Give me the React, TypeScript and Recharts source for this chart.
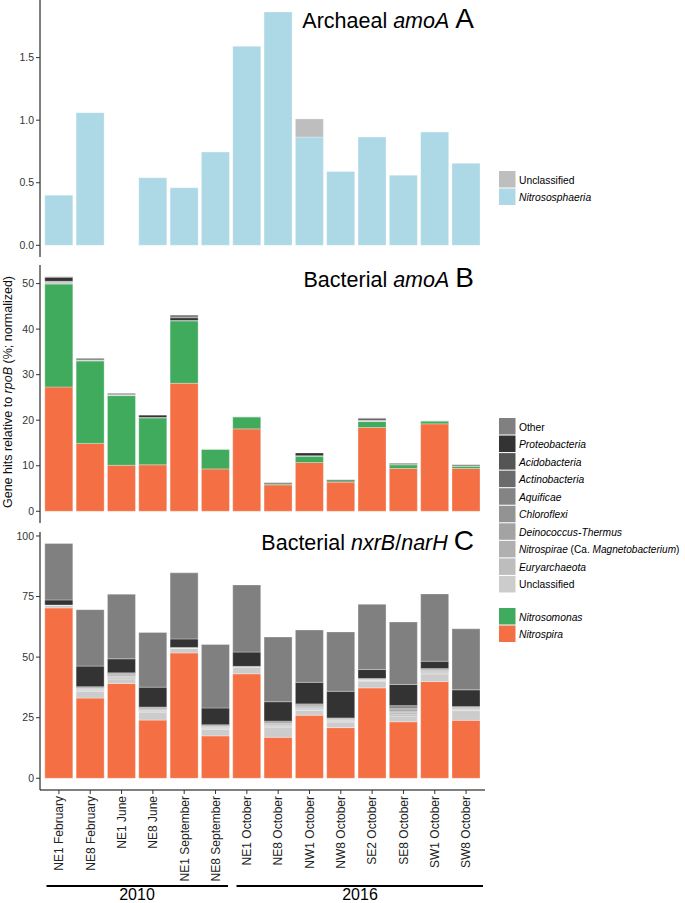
import { BarChart, Bar, XAxis, YAxis } from 'recharts';

const samples = [
  'NE1 February', 'NE8 February', 'NE1 June', 'NE8 June', 'NE1 September', 'NE8 September',
  'NE1 October', 'NE8 October', 'NW1 October', 'NW8 October', 'SE2 October', 'SE8 October',
  'SW1 October', 'SW8 October',
];

// A: archaeal amoA
const archNitrososphaeria = [0.4, 1.06, 0, 0.54, 0.46, 0.745, 1.59, 1.865, 0.865, 0.59, 0.865, 0.56, 0.905, 0.655];
const archUnclassified = [0, 0, 0, 0, 0, 0, 0, 0, 0.145, 0, 0, 0, 0, 0];

// B: bacterial amoA
const amoNitrospira = [27.3, 14.9, 10.1, 10.2, 28.1, 9.3, 18.1, 5.8, 10.7, 6.4, 18.4, 9.4, 19.2, 9.4];
const amoNitrosomonas = [22.6, 18.1, 15.3, 10.3, 13.7, 4.3, 2.6, 0.2, 1.4, 0.3, 1.3, 0.8, 0.6, 0.5];
const amoUnclassified = [0.6, 0.2, 0.2, 0.1, 0.1, 0.1, 0.1, 0, 0.1, 0, 0.3, 0.1, 0.1, 0.1];
const amoProteobacteria = [0.9, 0, 0, 0.5, 0.6, 0, 0, 0.2, 0.6, 0.2, 0.3, 0.2, 0, 0.2];
const amoOther = [0.1, 0.4, 0.3, 0, 0.6, 0, 0, 0.1, 0, 0, 0.2, 0, 0, 0];

// C: bacterial nxrB/narH
const nxrNitrospira = [70.3, 33.1, 39.1, 24.0, 51.7, 17.5, 43.1, 16.9, 26.0, 20.9, 37.3, 23.3, 39.9, 23.9];
const nxrUnclassified = [1.0, 2.8, 1.9, 3.3, 1.9, 2.7, 2.8, 4.0, 2.0, 2.3, 2.8, 2.4, 3.2, 4.0];
const nxrEuryarchaeota = [0.1, 0.4, 0.5, 0.4, 0.1, 0.4, 0.1, 0.5, 0.5, 0.3, 0.2, 0.8, 0.4, 0.3];
const nxrNitrospirae = [0.1, 0.3, 0.4, 0.3, 0.1, 0.3, 0.1, 0.4, 0.4, 0.3, 0.2, 0.6, 0.4, 0.3];
const nxrDeinococcus = [0, 0.2, 0.3, 0.3, 0, 0.2, 0, 0.4, 0.4, 0.2, 0.1, 0.6, 0.3, 0.2];
const nxrChloroflexi = [0, 0.3, 0.4, 0.3, 0.1, 0.3, 0, 0.4, 0.4, 0.3, 0.2, 0.6, 0.3, 0.3];
const nxrAquificae = [0, 0.2, 0.3, 0.3, 0, 0.2, 0, 0.3, 0.3, 0.2, 0.1, 0.6, 0.3, 0.2];
const nxrActinobacteria = [0, 0.3, 0.3, 0.3, 0.1, 0.3, 0.1, 0.4, 0.4, 0.2, 0.2, 0.6, 0.3, 0.2];
const nxrAcidobacteria = [0, 0.2, 0.3, 0.2, 0, 0.2, 0, 0.3, 0.3, 0.2, 0.1, 0.5, 0.2, 0.2];
const nxrProteobacteria = [2.1, 8.5, 5.8, 8.2, 3.5, 6.9, 5.9, 8.0, 8.9, 11.0, 3.7, 8.7, 3.0, 6.9];
const nxrOther = [23.3, 23.3, 26.7, 22.6, 27.3, 26.2, 27.7, 26.7, 21.6, 24.5, 26.9, 25.8, 27.8, 25.2];

const ticksA = [0, 0.5, 1, 1.5];
const ticksB = [0, 10, 20, 30, 40, 50];
const ticksC = [0, 25, 50, 75, 100];

const C = {
  nitrospira: '#F46F44',
  nitrosomonas: '#41AB5D',
  nitrososphaeria: '#ADD8E6',
  archUnclass: '#BEBEBE',
  unclassified: '#CCCCCC',
  eury: '#BDBDBD',
  nitrospirae: '#B0B0B0',
  deino: '#A3A3A3',
  chloro: '#939393',
  aquif: '#848484',
  actino: '#6B6B6B',
  acido: '#555555',
  proteo: '#333333',
  other: '#808080',
};

const dataA = samples.map((s, i) => ({ sample: s, nitrososphaeria: archNitrososphaeria[i], unclassified: archUnclassified[i] }));
const dataB = samples.map((s, i) => ({
  sample: s,
  nitrospira: amoNitrospira[i],
  nitrosomonas: amoNitrosomonas[i],
  unclassified: amoUnclassified[i],
  proteo: amoProteobacteria[i],
  other: amoOther[i],
}));
const dataC = samples.map((s, i) => ({
  sample: s,
  nitrospira: nxrNitrospira[i],
  unclassified: nxrUnclassified[i],
  eury: nxrEuryarchaeota[i],
  nitrospirae: nxrNitrospirae[i],
  deino: nxrDeinococcus[i],
  chloro: nxrChloroflexi[i],
  aquif: nxrAquificae[i],
  actino: nxrActinobacteria[i],
  acido: nxrAcidobacteria[i],
  proteo: nxrProteobacteria[i],
  other: nxrOther[i],
}));

const FONT = '"Liberation Sans", Arial, Helvetica, sans-serif';
const W = 485;
const PAD = { left: 3.25, right: 3.25 };
const tickStyle = { fontSize: 10.5, fill: '#333', fontFamily: FONT };

function XTick(props: any) {
  const { x, y, payload } = props;
  return (
    <g transform={`translate(${x},${y})`}>
      <text transform="rotate(-90)" x={0} y={0} dy="0.36em" textAnchor="end" fontSize={12} fill="#222" fontFamily={FONT}>
        {payload.value}
      </text>
    </g>
  );
}

function yAxis(domain: number[], ticks: number[], fmt?: (v: number) => string) {
  return (
    <YAxis
      type="number"
      domain={domain}
      allowDataOverflow
      ticks={ticks}
      interval={0}
      width={40}
      tickSize={4}
      tickMargin={2}
      axisLine={{ stroke: '#000', strokeWidth: 1 }}
      tickLine={{ stroke: '#333' }}
      tick={tickStyle}
      tickFormatter={fmt}
    />
  );
}

function seg(key: string, color: string) {
  return <Bar key={key} dataKey={key} stackId="s" fill={color} stroke="#ffffff" strokeWidth={0.3} isAnimationActive={false} />;
}

const legendBC = [
  { label: 'Other', color: C.other, italic: false },
  { label: 'Proteobacteria', color: C.proteo, italic: true },
  { label: 'Acidobacteria', color: C.acido, italic: true },
  { label: 'Actinobacteria', color: C.actino, italic: true },
  { label: 'Aquificae', color: C.aquif, italic: true },
  { label: 'Chloroflexi', color: C.chloro, italic: true },
  { label: 'Deinococcus-Thermus', color: C.deino, italic: true },
  { label: 'NITROSPIRAE', color: C.nitrospirae, italic: true },
  { label: 'Euryarchaeota', color: C.eury, italic: true },
  { label: 'Unclassified', color: C.unclassified, italic: false },
];

export default function App() {
  return (
    <div style={{ position: 'absolute', left: 0, top: 0, width: 685, height: 903, background: '#fff', fontFamily: FONT }}>
      <div style={{ position: 'absolute', left: 0, top: 0 }}>
        <BarChart width={W} height={257} data={dataA} margin={{ top: 0, right: 0, bottom: 0, left: 0 }} barCategoryGap="5%">
          <XAxis dataKey="sample" hide padding={PAD} />
          {yAxis([-0.0934, 1.9605], ticksA, (v) => v.toFixed(1))}
          {seg('nitrososphaeria', C.nitrososphaeria)}
          {seg('unclassified', C.archUnclass)}
        </BarChart>
      </div>
      <div style={{ position: 'absolute', left: 0, top: 255 }}>
        <BarChart width={W} height={268} data={dataB} margin={{ top: 10, right: 0, bottom: 0, left: 0 }} barCategoryGap="5%">
          <XAxis dataKey="sample" hide padding={PAD} />
          {yAxis([-2.575, 54.08], ticksB)}
          {seg('nitrospira', C.nitrospira)}
          {seg('nitrosomonas', C.nitrosomonas)}
          {seg('unclassified', C.unclassified)}
          {seg('proteo', C.proteo)}
          {seg('other', C.other)}
        </BarChart>
      </div>
      <div style={{ position: 'absolute', left: 0, top: 522 }}>
        <BarChart width={W} height={378} data={dataC} margin={{ top: 10, right: 0, bottom: 0, left: 0 }} barCategoryGap="5%">
          <XAxis
            dataKey="sample"
            padding={PAD}
            height={110}
            interval={0}
            tickSize={4}
            tickMargin={2}
            axisLine={{ stroke: '#000', strokeWidth: 1 }}
            tickLine={{ stroke: '#333' }}
            tick={<XTick />}
          />
          {yAxis([-4.84, 101.64], ticksC)}
          {seg('nitrospira', C.nitrospira)}
          {seg('unclassified', C.unclassified)}
          {seg('eury', C.eury)}
          {seg('nitrospirae', C.nitrospirae)}
          {seg('deino', C.deino)}
          {seg('chloro', C.chloro)}
          {seg('aquif', C.aquif)}
          {seg('actino', C.actino)}
          {seg('acido', C.acido)}
          {seg('proteo', C.proteo)}
          {seg('other', C.other)}
        </BarChart>
      </div>

      <svg width={685} height={903} style={{ position: 'absolute', left: 0, top: 0, pointerEvents: 'none' }} fontFamily={FONT}>
        {/* panel titles */}
        <text x={474} y={28} textAnchor="end" fontSize={21.5} fill="#000">
          Archaeal <tspan fontStyle="italic">amoA</tspan> <tspan fontSize={28}>A</tspan>
        </text>
        <text x={474} y={287} textAnchor="end" fontSize={21.5} fill="#000">
          Bacterial <tspan fontStyle="italic">amoA</tspan> <tspan fontSize={28}>B</tspan>
        </text>
        <text x={474} y={550} textAnchor="end" fontSize={21.5} fill="#000">
          Bacterial <tspan fontStyle="italic">nxrB</tspan>/<tspan fontStyle="italic">narH</tspan> <tspan fontSize={28}>C</tspan>
        </text>

        {/* y axis title */}
        <text transform="translate(12,392) rotate(-90)" textAnchor="middle" fontSize={12.5} fill="#111">
          Gene hits relative to <tspan fontStyle="italic">rpoB</tspan> (%; normalized)
        </text>

        {/* legend A */}
        <rect x={499} y={171} width={16.5} height={16.5} fill={C.archUnclass} />
        <text x={519} y={183.5} fontSize={10.3} fill="#000">Unclassified</text>
        <rect x={499} y={188.5} width={16.5} height={16.5} fill={C.nitrososphaeria} />
        <text x={519} y={201} fontSize={10.3} fill="#000" fontStyle="italic">Nitrososphaeria</text>

        {/* legend B/C */}
        {legendBC.map((d, i) => {
          const y = 418 + i * 17.55;
          return (
            <g key={d.label}>
              <rect x={499} y={y} width={16.5} height={16.5} fill={d.color} />
              {d.label === 'NITROSPIRAE' ? (
                <text x={519} y={y + 12.5} fontSize={10.1} fill="#000">
                  <tspan fontStyle="italic">Nitrospirae</tspan> (Ca. <tspan fontStyle="italic">Magnetobacterium</tspan>)
                </text>
              ) : (
                <text x={519} y={y + 12.5} fontSize={10.3} fill="#000" fontStyle={d.italic ? 'italic' : 'normal'}>
                  {d.label}
                </text>
              )}
            </g>
          );
        })}
        <rect x={499} y={608} width={16.5} height={16.5} fill={C.nitrosomonas} />
        <text x={519} y={620.5} fontSize={10.3} fill="#000" fontStyle="italic">Nitrosomonas</text>
        <rect x={499} y={625.5} width={16.5} height={16.5} fill={C.nitrospira} />
        <text x={519} y={638} fontSize={10.3} fill="#000" fontStyle="italic">Nitrospira</text>

        {/* year groups */}
        <line x1={46.5} x2={228} y1={886} y2={886} stroke="#000" strokeWidth={2} />
        <line x1={236.5} x2={483} y1={886} y2={886} stroke="#000" strokeWidth={2} />
        <text x={137} y={900} textAnchor="middle" fontSize={16} fill="#000">2010</text>
        <text x={360} y={900} textAnchor="middle" fontSize={16} fill="#000">2016</text>
      </svg>
    </div>
  );
}
